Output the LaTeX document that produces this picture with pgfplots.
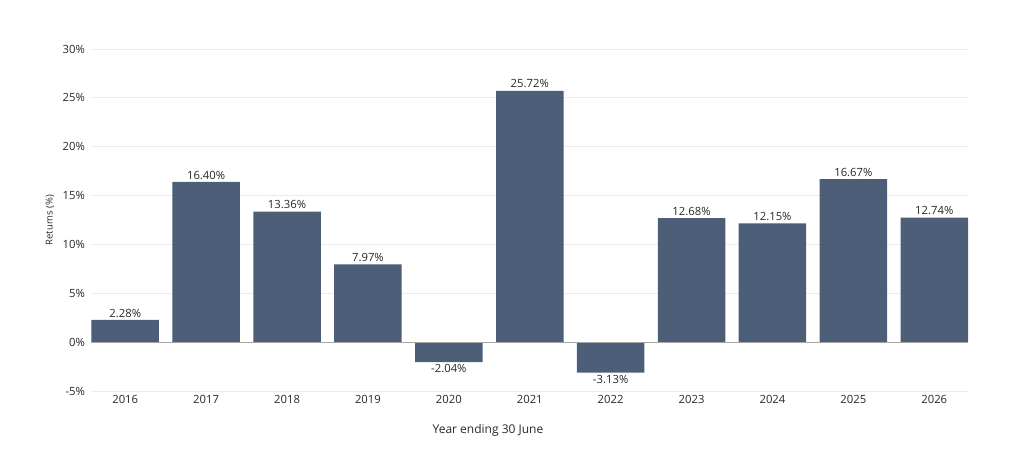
\documentclass[border=0pt]{standalone}
\usepackage{pgfplots}
\pgfplotsset{compat=1.18}
\usepackage{fontspec}
\setmainfont{Open Sans}
\definecolor{barc}{RGB}{76,94,120}
\definecolor{gridc}{RGB}{235,235,235}
\definecolor{txt}{RGB}{40,40,40}
\begin{document}
\begin{tikzpicture}[x=1pt,y=1pt]
\path[use as bounding box] (0,0) rectangle (1013,450);
\begin{axis}[
  at={(91.5pt,59pt)}, anchor=south west,
  scale only axis, width=876.5pt, height=342pt,
  xmin=-0.417, xmax=10.417,
  ymin=-5, ymax=30,
  ytick={-5,0,5,10,15,20,25,30},
  yticklabel={\pgfmathprintnumber{\tick}\%},
  xtick={0,...,10},
  xticklabels={2016,2017,2018,2019,2020,2021,2022,2023,2024,2025,2026},
  axis line style={draw=none},
  major tick length=0pt,
  ymajorgrids, grid style={gridc, line width=0.8pt},
  tick label style={font=\fontsize{11.3}{13}\selectfont, text=txt},
  yticklabel style={xshift=-3pt},
  xticklabel style={yshift=-1pt},
  /pgf/number format/assume math mode=true,
  ylabel={Returns (\%)},
  every axis y label/.style={at={(axis description cs:-0.0473,0.5)}, rotate=90, anchor=center, font=\fontsize{9.5}{11}\selectfont, text=txt},
  clip=false,
]
\addplot[ybar, bar width=67.5pt, fill=barc, draw=none,
  nodes near coords={\pgfmathprintnumber[fixed,fixed zerofill,precision=2,assume math mode=true]{\pgfplotspointmeta}\%},
  nodes near coords align={vertical},
  every node near coord/.append style={font=\fontsize{11.3}{13}\selectfont, text=txt, inner sep=2.5pt},
  point meta=y]
  table {
x y
0 2.28
1 16.40
2 13.36
3 7.97
4 -2.04
5 25.72
6 -3.13
7 12.68
8 12.15
9 16.67
10 12.74
};
\draw[gray!70, line width=0.8pt] (axis cs:-0.417,0) -- (axis cs:10.417,0);
\end{axis}
\node[font=\fontsize{12}{14}\selectfont, text=txt] at (488,20) {Year ending 30 June};
\end{tikzpicture}
\end{document}
